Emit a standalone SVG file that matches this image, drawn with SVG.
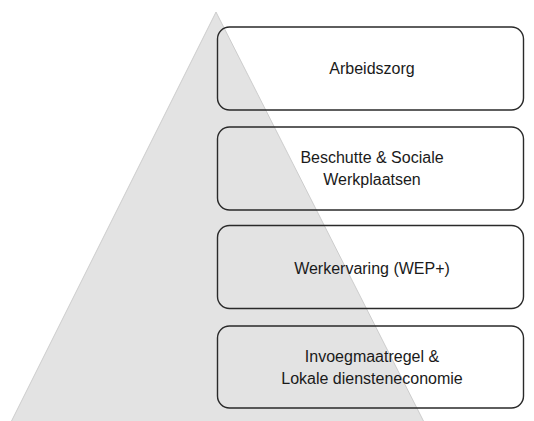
<svg xmlns="http://www.w3.org/2000/svg" width="534" height="421" viewBox="0 0 534 421">
<style>
.box{fill:none;stroke:#2a2a2a;stroke-width:1.4}
.t{font-family:"Liberation Sans",Arial,sans-serif;font-size:16px;fill:#1a1a1a;text-anchor:middle}
</style>
<rect width="534" height="421" fill="#ffffff"/>
<g id="pyramid"><polygon points="216,12 11,422 424,422" fill="#e3e3e3" stroke="#c4c4c4" stroke-width="0.8"/></g>
<g id="connectors"></g>
<g id="n1"><rect class="box" x="217.5" y="27" width="306" height="83" rx="12"/><text class="t" x="372" y="74">Arbeidszorg</text></g>
<g id="n2"><rect class="box" x="217.5" y="127" width="306" height="83" rx="12"/><text class="t" x="372" y="162.5">Beschutte &amp; Sociale</text><text class="t" x="372" y="184.5">Werkplaatsen</text></g>
<g id="n3"><rect class="box" x="217.5" y="225.5" width="306" height="83" rx="12"/><text class="t" x="372" y="273.5">Werkervaring (WEP+)</text></g>
<g id="n4"><rect class="box" x="217.5" y="326" width="306" height="82" rx="12"/><text class="t" x="372" y="361.5">Invoegmaatregel &amp;</text><text class="t" x="372" y="383.5">Lokale diensteneconomie</text></g>
</svg>
